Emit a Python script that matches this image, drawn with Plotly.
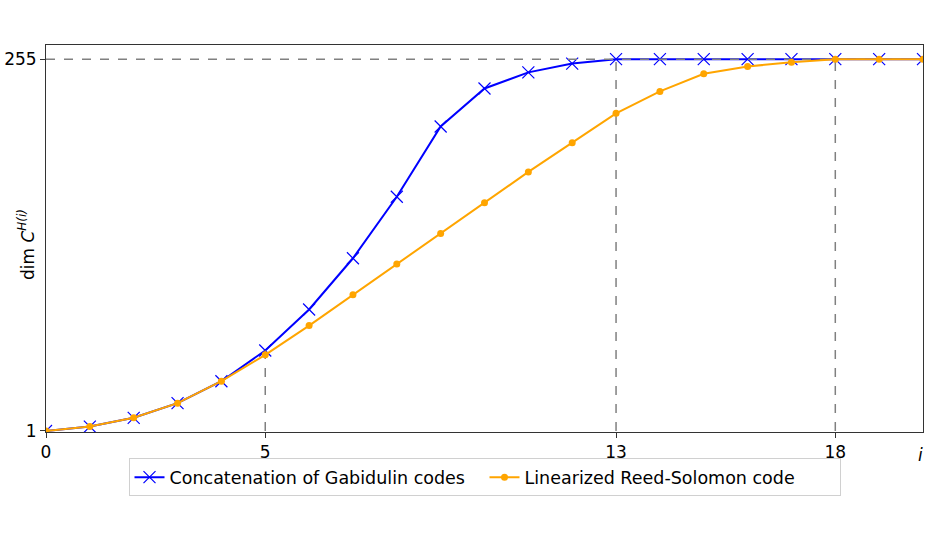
import plotly.graph_objects as go

i_vals = list(range(0, 21))
gabidulin = [1, 4, 10, 20, 35, 56, 84, 119, 161, 209, 235, 246, 252, 255,
             255, 255, 255, 255, 255, 255, 255]
linearized_rs = [1, 4, 10, 20, 35, 53, 73, 94, 115, 136, 157, 178, 198, 218,
                 233, 245, 250, 253, 255, 255, 255]

ref_level = 255
ref_x = [5, 13, 18]
ref_top = [56, 255, 255]
x_ticks = [0, 5, 13, 18]
y_ticks = [1, 255]

FONT = "DejaVu Sans"
FS = 17
FS_LEG = 17.5
BLUE = "#0000FF"
ORANGE = "#FFA500"
GREY = "#808080"

fig = go.Figure()

fig.add_trace(go.Scatter(
    x=i_vals, y=gabidulin, mode="lines+markers",
    name="Concatenation of Gabidulin codes",
    line=dict(color=BLUE, width=2),
    marker=dict(symbol="x-thin", size=12, line=dict(color=BLUE, width=1.2), color=BLUE),
))

# reference dashed lines
fig.add_trace(go.Scatter(
    x=[i_vals[0], i_vals[-1]], y=[ref_level, ref_level], mode="lines",
    line=dict(color=GREY, width=1.5, dash="dash"), showlegend=False, hoverinfo="skip",
))
for xv, yt in zip(ref_x, ref_top):
    fig.add_trace(go.Scatter(
        x=[xv, xv], y=[y_ticks[0], yt], mode="lines",
        line=dict(color=GREY, width=1.5, dash="dash"), showlegend=False, hoverinfo="skip",
    ))

fig.add_trace(go.Scatter(
    x=i_vals, y=linearized_rs, mode="lines+markers",
    name="Linearized Reed-Solomon code",
    line=dict(color=ORANGE, width=2),
    marker=dict(symbol="circle", size=7, color=ORANGE),
))

fig.update_layout(
    width=931, height=538,
    margin=dict(l=46, r=8, t=45, b=106),
    paper_bgcolor="white", plot_bgcolor="white",
    font=dict(family=FONT, size=FS, color="black"),
    showlegend=True,
    legend=dict(
        orientation="h", x=0.5, xanchor="center", y=-0.068, yanchor="top",
        bordercolor="#d0d0d0", borderwidth=1, bgcolor="white",
        font=dict(family=FONT, size=FS_LEG), itemwidth=30,
        entrywidth=310, entrywidthmode="pixels",
    ),
    xaxis=dict(
        range=[0, 20], tickmode="array", tickvals=x_ticks,
        ticktext=[str(v) for v in x_ticks], automargin=False,
        showgrid=False, zeroline=False,
        showline=True, linecolor="#333333", linewidth=1, mirror=True,
        ticks="outside", ticklen=5, tickcolor="#333333",
        tickfont=dict(family=FONT, size=FS),
    ),
    yaxis=dict(
        range=[0.3, 264.7], tickmode="array", tickvals=y_ticks,
        ticktext=[str(v) for v in y_ticks], automargin=False,
        showgrid=False, zeroline=False,
        showline=True, linecolor="#333333", linewidth=1, mirror=True,
        ticks="outside", ticklen=5, tickcolor="#333333",
        tickfont=dict(family=FONT, size=FS),
    ),
    annotations=[
        dict(text="dim <i>C</i><sup><i>H(i)</i></sup>", xref="paper", yref="paper",
             x=-0.022, y=0.485, xanchor="center", yanchor="middle", textangle=-90,
             showarrow=False, font=dict(family=FONT, size=FS)),
        dict(text="<i>i</i>", xref="paper", yref="paper",
             x=0.997, y=-0.06, xanchor="center", yanchor="middle",
             showarrow=False, font=dict(family=FONT, size=FS)),
    ],
)

fig.write_html("out.html")
